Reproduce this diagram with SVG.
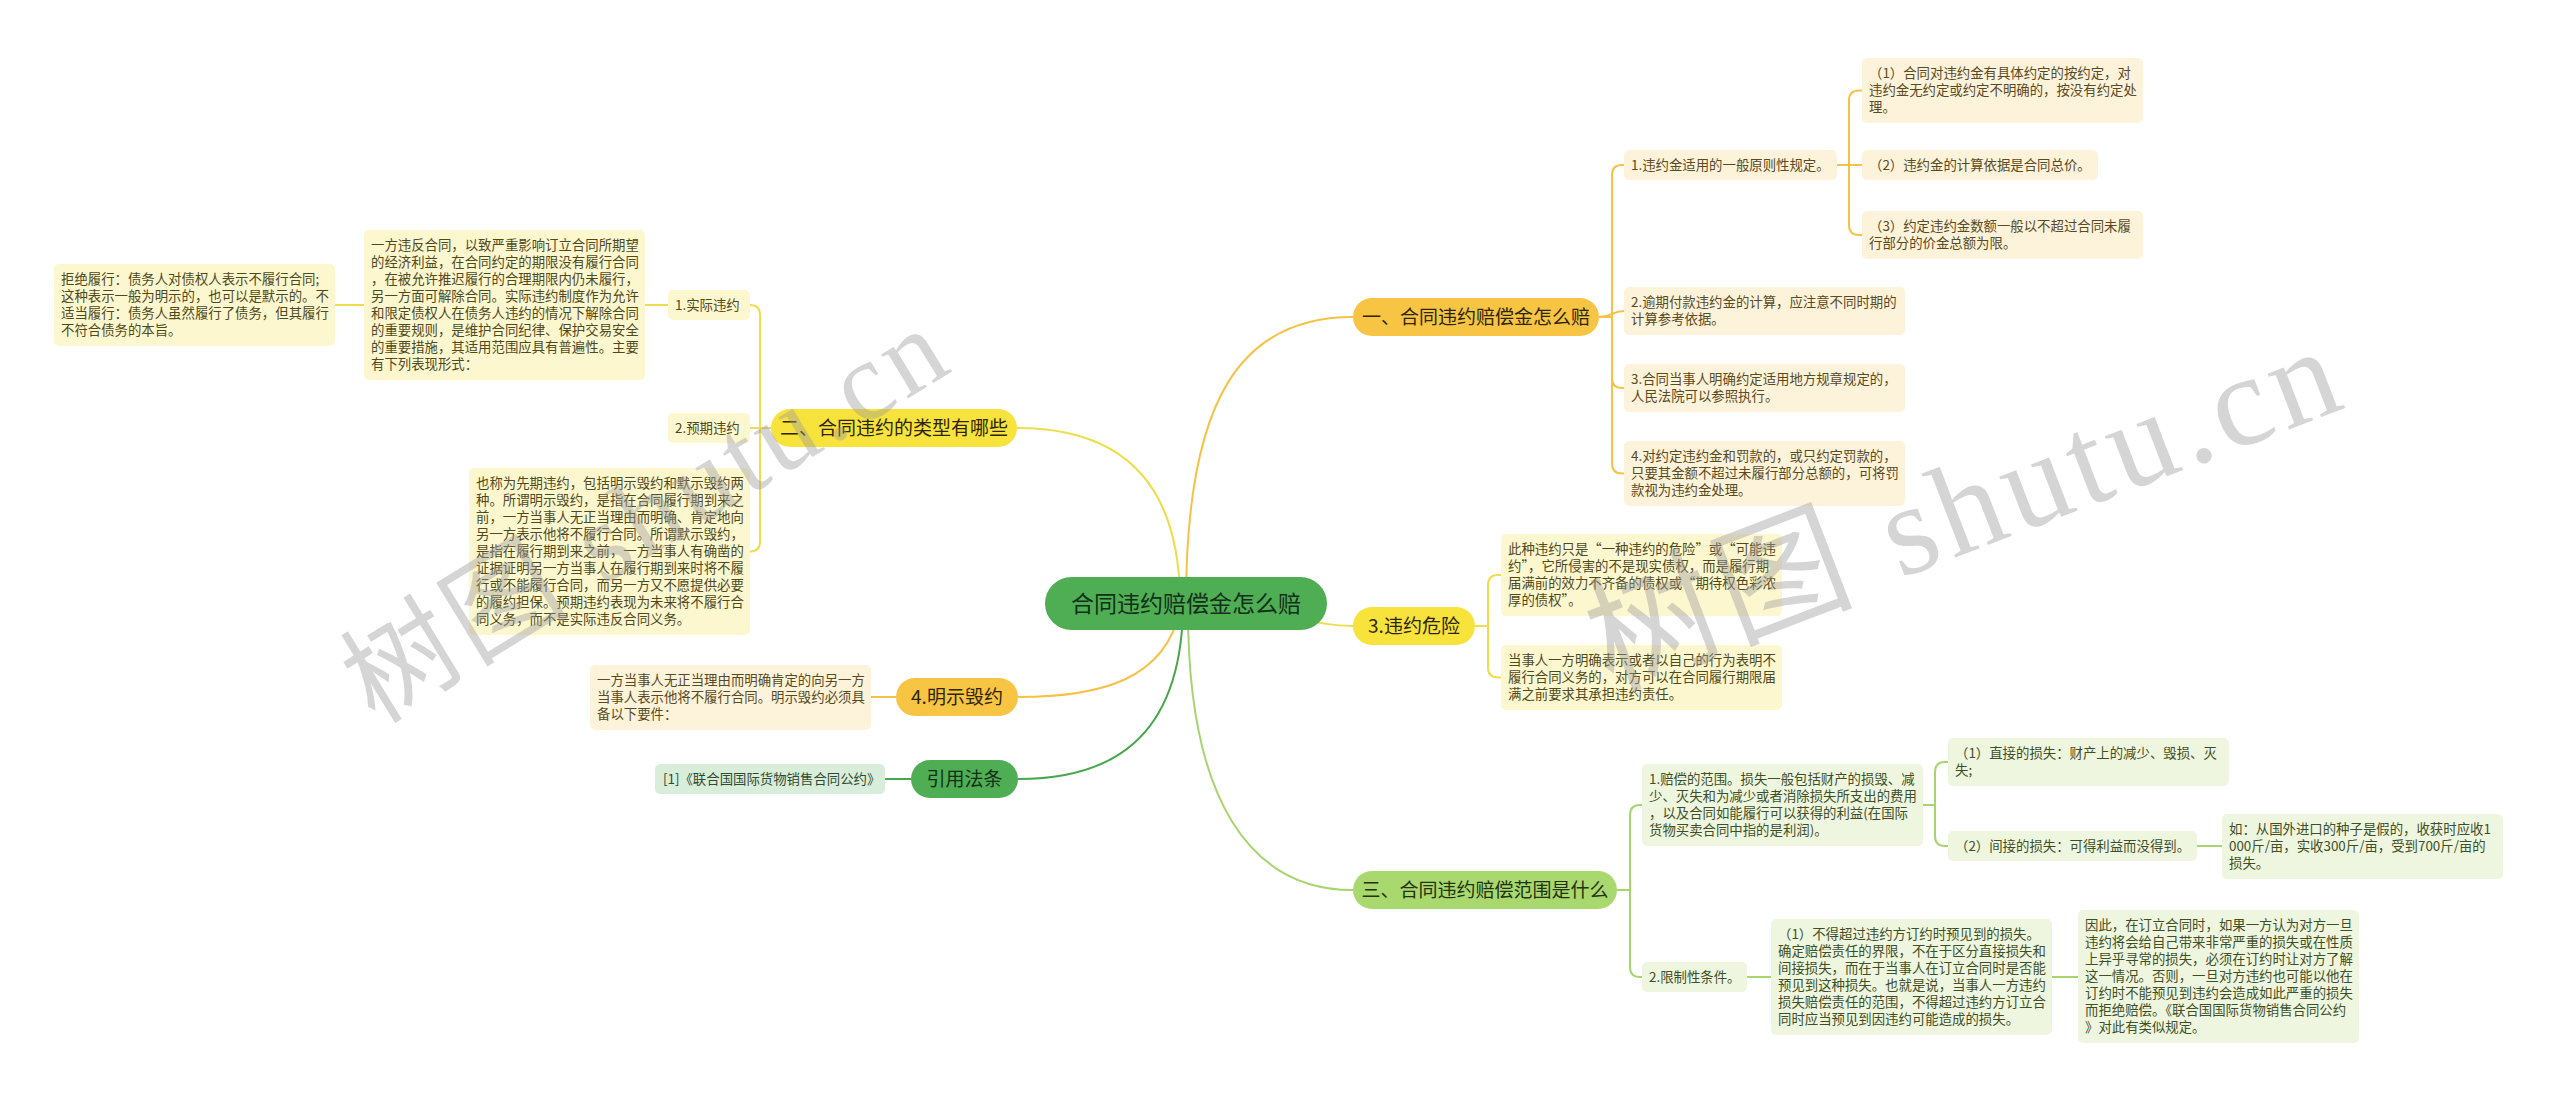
<svg xmlns="http://www.w3.org/2000/svg" width="2560" height="1100" viewBox="0 0 2560 1100">
<style>
text{font-family:"Noto Sans CJK SC","Microsoft YaHei",sans-serif}
.t{font-size:13.4px}
.m{font-size:19px;text-anchor:middle}
.c{font-size:23px;text-anchor:middle;fill:#12301a}
.cr{fill:#FDF3DA}.cr+text{fill:#5a4a22}
.yl{fill:#FDF7D0}.yl+text{fill:#4f4a1a}
.gr{fill:#EEF6E0}.gr+text{fill:#3e4f25}
.dg{fill:#D9EEDA}.dg+text{fill:#2f4a33}
.ng{fill:#F8C444}.ny{fill:#F8E23C}.nl{fill:#A9D86E}.nd{fill:#4FAD53}
.ng+text,.ny+text{fill:#2e2600}.nl+text{fill:#22330f}.nd+text{fill:#12301a}
.l{fill:none;stroke-width:2}
.lg{stroke:#F5C245}.ly{stroke:#EEDD4C}.ll{stroke:#A8D46F}.ld{stroke:#47A74C}
.wm{font-family:"Liberation Serif","Noto Sans CJK SC",serif;fill:#9a9a9a;fill-opacity:0.42}
</style>
<rect width="2560" height="1100" fill="#ffffff"/>
<g id="connectors">
<path class="l lg" stroke-width="2.5" d="M1186 603 C1186 400,1240 317,1353 317"/>
<path class="l ly" stroke-width="2.5" d="M1290 615 C1320 624,1335 626,1353 626"/>
<path class="l ll" stroke-width="2.5" d="M1188 610 C1188 800,1250 890,1353 890"/>
<path class="l ly" stroke-width="2.5" d="M1180 603 C1180 480,1120 428,1017 428"/>
<path class="l lg" stroke-width="2.5" d="M1180 610 C1165 680,1100 697,1018 697"/>
<path class="l ld" stroke-width="2.5" d="M1183 610 C1180 740,1110 779,1018 779"/>
<path class="l lg" d="M1599 317 H1612 V175 Q1612 165 1622 165 H1624"/>
<path class="l lg" d="M1599 317 C1612 317,1612 311,1624 311"/>
<path class="l lg" d="M1599 317 H1612 V378 Q1612 388 1622 388 H1624"/>
<path class="l lg" d="M1599 317 H1612 V463.5 Q1612 473.5 1622 473.5 H1624"/>
<path class="l lg" d="M1837 165 H1849 V100.5 Q1849 90.5 1859 90.5 H1862"/>
<path class="l lg" d="M1837 165 H1862"/>
<path class="l lg" d="M1837 165 H1849 V225 Q1849 235 1859 235 H1862"/>
<path class="l ly" d="M1475 626 H1488 V585 Q1488 575 1498 575 H1501"/>
<path class="l ly" d="M1475 626 H1488 V667.5 Q1488 677.5 1498 677.5 H1501"/>
<path class="l ll" d="M1617 890 H1630 V815 Q1630 805 1640 805 H1642"/>
<path class="l ll" d="M1617 890 H1630 V967 Q1630 977 1640 977 H1642"/>
<path class="l ll" d="M1923 805 H1935 V772 Q1935 762 1945 762 H1948"/>
<path class="l ll" d="M1923 805 H1935 V836 Q1935 846 1945 846 H1948"/>
<path class="l ll" d="M2197 846 H2222"/>
<path class="l ll" d="M1747 977 H1771"/>
<path class="l ll" d="M2052 977 H2078"/>
<path class="l ly" d="M771 428 H760 V315 Q760 305 750 305"/>
<path class="l ly" d="M771 428 H750"/>
<path class="l ly" d="M771 428 H760 V541.5 Q760 551.5 750 551.5"/>
<path class="l ly" d="M668 305 H645"/>
<path class="l ly" d="M364 305 H335"/>
<path class="l lg" d="M896 697 H871"/>
<path class="l ld" d="M911 779 H885"/>
</g>
<g id="center"><rect class="nd" x="1045" y="577" width="282" height="53" rx="26.5"/><text class="c" x="1186" y="612">合同违约赔偿金怎么赔</text></g>
<g id="n1"><rect class="ng" x="1353" y="298" width="246" height="38" rx="19"/><text class="m" x="1476" y="324">一、合同违约赔偿金怎么赔</text></g>
<g id="n3"><rect class="ny" x="1353" y="607" width="122" height="38" rx="19"/><text class="m" x="1414" y="633">3.违约危险</text></g>
<g id="nIII"><rect class="nl" x="1353" y="871" width="264" height="38" rx="19"/><text class="m" x="1485" y="897">三、合同违约赔偿范围是什么</text></g>
<g id="nII"><rect class="ny" x="771" y="409" width="246" height="38" rx="19"/><text class="m" x="894" y="435">二、合同违约的类型有哪些</text></g>
<g id="n4"><rect class="ng" x="896" y="678" width="122" height="38" rx="19"/><text class="m" x="957" y="704">4.明示毁约</text></g>
<g id="nref"><rect class="nd" x="911" y="760" width="107" height="38" rx="19"/><text class="m" x="964.5" y="786">引用法条</text></g>

<g id="a1"><rect class="cr" x="1624" y="150" width="213" height="30" rx="5"/><text class="t" x="1631" y="170">1.违约金适用的一般原则性规定。</text></g>
<g id="a2"><rect class="cr" x="1624" y="287" width="281" height="48" rx="5"/><text class="t" x="1631" y="307"><tspan x="1631">2.逾期付款违约金的计算，应注意不同时期的</tspan><tspan x="1631" dy="17">计算参考依据。</tspan></text></g>
<g id="a3"><rect class="cr" x="1624" y="364" width="281" height="48" rx="5"/><text class="t" x="1631" y="384"><tspan x="1631">3.合同当事人明确约定适用地方规章规定的，</tspan><tspan x="1631" dy="17">人民法院可以参照执行。</tspan></text></g>
<g id="a4"><rect class="cr" x="1624" y="441" width="281" height="65" rx="5"/><text class="t" x="1631" y="461"><tspan x="1631">4.对约定违约金和罚款的，或只约定罚款的，</tspan><tspan x="1631" dy="17">只要其金额不超过未履行部分总额的，可将罚</tspan><tspan x="1631" dy="17">款视为违约金处理。</tspan></text></g>
<g id="a11"><rect class="cr" x="1862" y="58" width="281" height="65" rx="5"/><text class="t" x="1869" y="78"><tspan x="1869">（1）合同对违约金有具体约定的按约定，对</tspan><tspan x="1869" dy="17">违约金无约定或约定不明确的，按没有约定处</tspan><tspan x="1869" dy="17">理。</tspan></text></g>
<g id="a12"><rect class="cr" x="1862" y="150" width="236" height="30" rx="5"/><text class="t" x="1869" y="170">（2）违约金的计算依据是合同总价。</text></g>
<g id="a13"><rect class="cr" x="1862" y="211" width="281" height="48" rx="5"/><text class="t" x="1869" y="231"><tspan x="1869">（3）约定违约金数额一般以不超过合同未履</tspan><tspan x="1869" dy="17">行部分的价金总额为限。</tspan></text></g>

<g id="b1"><rect class="yl" x="1501" y="534" width="281" height="82" rx="5"/><text class="t" x="1508" y="554"><tspan x="1508">此种违约只是“一种违约的危险”或“可能违</tspan><tspan x="1508" dy="17">约”，它所侵害的不是现实债权，而是履行期</tspan><tspan x="1508" dy="17">届满前的效力不齐备的债权或“期待权色彩浓</tspan><tspan x="1508" dy="17">厚的债权”。</tspan></text></g>
<g id="b2"><rect class="yl" x="1501" y="645" width="281" height="65" rx="5"/><text class="t" x="1508" y="665"><tspan x="1508">当事人一方明确表示或者以自己的行为表明不</tspan><tspan x="1508" dy="17">履行合同义务的，对方可以在合同履行期限届</tspan><tspan x="1508" dy="17">满之前要求其承担违约责任。</tspan></text></g>

<g id="c1"><rect class="gr" x="1642" y="764" width="281" height="82" rx="5"/><text class="t" x="1649" y="784"><tspan x="1649">1.赔偿的范围。损失一般包括财产的损毁、减</tspan><tspan x="1649" dy="17">少、灭失和为减少或者消除损失所支出的费用</tspan><tspan x="1649" dy="17">，以及合同如能履行可以获得的利益(在国际</tspan><tspan x="1649" dy="17">货物买卖合同中指的是利润)。</tspan></text></g>
<g id="c11"><rect class="gr" x="1948" y="738" width="281" height="48" rx="5"/><text class="t" x="1955" y="758"><tspan x="1955">（1）直接的损失：财产上的减少、毁损、灭</tspan><tspan x="1955" dy="17">失;</tspan></text></g>
<g id="c12"><rect class="gr" x="1948" y="831" width="249" height="30" rx="5"/><text class="t" x="1955" y="851">（2）间接的损失：可得利益而没得到。</text></g>
<g id="c121"><rect class="gr" x="2222" y="814" width="281" height="65" rx="5"/><text class="t" x="2229" y="834"><tspan x="2229">如：从国外进口的种子是假的，收获时应收1</tspan><tspan x="2229" dy="17">000斤/亩，实收300斤/亩，受到700斤/亩的</tspan><tspan x="2229" dy="17">损失。</tspan></text></g>
<g id="c2"><rect class="gr" x="1642" y="962" width="105" height="30" rx="5"/><text class="t" x="1649" y="982">2.限制性条件。</text></g>
<g id="c21"><rect class="gr" x="1771" y="919" width="281" height="116" rx="5"/><text class="t" x="1778" y="939"><tspan x="1778">（1）不得超过违约方订约时预见到的损失。</tspan><tspan x="1778" dy="17">确定赔偿责任的界限，不在于区分直接损失和</tspan><tspan x="1778" dy="17">间接损失，而在于当事人在订立合同时是否能</tspan><tspan x="1778" dy="17">预见到这种损失。也就是说，当事人一方违约</tspan><tspan x="1778" dy="17">损失赔偿责任的范围，不得超过违约方订立合</tspan><tspan x="1778" dy="17">同时应当预见到因违约可能造成的损失。</tspan></text></g>
<g id="c211"><rect class="gr" x="2078" y="910" width="281" height="133" rx="5"/><text class="t" x="2085" y="930"><tspan x="2085">因此，在订立合同时，如果一方认为对方一旦</tspan><tspan x="2085" dy="17">违约将会给自己带来非常严重的损失或在性质</tspan><tspan x="2085" dy="17">上异乎寻常的损失，必须在订约时让对方了解</tspan><tspan x="2085" dy="17">这一情况。否则，一旦对方违约也可能以他在</tspan><tspan x="2085" dy="17">订约时不能预见到违约会造成如此严重的损失</tspan><tspan x="2085" dy="17">而拒绝赔偿。《联合国国际货物销售合同公约</tspan><tspan x="2085" dy="17">》对此有类似规定。</tspan></text></g>

<g id="d1"><rect class="yl" x="668" y="290" width="82" height="30" rx="5"/><text class="t" x="675" y="310">1.实际违约</text></g>
<g id="d11"><rect class="yl" x="364" y="230" width="281" height="150" rx="5"/><text class="t" x="371" y="250"><tspan x="371">一方违反合同，以致严重影响订立合同所期望</tspan><tspan x="371" dy="17">的经济利益，在合同约定的期限没有履行合同</tspan><tspan x="371" dy="17">，在被允许推迟履行的合理期限内仍未履行，</tspan><tspan x="371" dy="17">另一方面可解除合同。实际违约制度作为允许</tspan><tspan x="371" dy="17">和限定债权人在债务人违约的情况下解除合同</tspan><tspan x="371" dy="17">的重要规则，是维护合同纪律、保护交易安全</tspan><tspan x="371" dy="17">的重要措施，其适用范围应具有普遍性。主要</tspan><tspan x="371" dy="17">有下列表现形式：</tspan></text></g>
<g id="d111"><rect class="yl" x="54" y="264" width="281" height="82" rx="5"/><text class="t" x="61" y="284"><tspan x="61">拒绝履行：债务人对债权人表示不履行合同;</tspan><tspan x="61" dy="17">这种表示一般为明示的，也可以是默示的。不</tspan><tspan x="61" dy="17">适当履行：债务人虽然履行了债务，但其履行</tspan><tspan x="61" dy="17">不符合债务的本旨。</tspan></text></g>
<g id="d2"><rect class="yl" x="668" y="413" width="82" height="30" rx="5"/><text class="t" x="675" y="433">2.预期违约</text></g>
<g id="d3"><rect class="yl" x="469" y="468" width="281" height="167" rx="5"/><text class="t" x="476" y="488"><tspan x="476">也称为先期违约，包括明示毁约和默示毁约两</tspan><tspan x="476" dy="17">种。所谓明示毁约，是指在合同履行期到来之</tspan><tspan x="476" dy="17">前，一方当事人无正当理由而明确、肯定地向</tspan><tspan x="476" dy="17">另一方表示他将不履行合同。所谓默示毁约，</tspan><tspan x="476" dy="17">是指在履行期到来之前，一方当事人有确凿的</tspan><tspan x="476" dy="17">证据证明另一方当事人在履行期到来时将不履</tspan><tspan x="476" dy="17">行或不能履行合同，而另一方又不愿提供必要</tspan><tspan x="476" dy="17">的履约担保。预期违约表现为未来将不履行合</tspan><tspan x="476" dy="17">同义务，而不是实际违反合同义务。</tspan></text></g>

<g id="e1"><rect class="cr" x="590" y="665" width="281" height="65" rx="5"/><text class="t" x="597" y="685"><tspan x="597">一方当事人无正当理由而明确肯定的向另一方</tspan><tspan x="597" dy="17">当事人表示他将不履行合同。明示毁约必须具</tspan><tspan x="597" dy="17">备以下要件：</tspan></text></g>
<g id="f1"><rect class="dg" x="655" y="764" width="230" height="30" rx="5"/><text class="t" x="663" y="784">[1]《联合国国际货物销售合同公约》</text></g>

<g id="watermark">
<text class="wm" font-size="112" letter-spacing="5" transform="translate(375 725) rotate(-31.5)">树图 shutu.cn</text>
<text class="wm" font-size="130" letter-spacing="6" transform="translate(1610 690) rotate(-21)">树图 shutu.cn</text>
</g>
</svg>
